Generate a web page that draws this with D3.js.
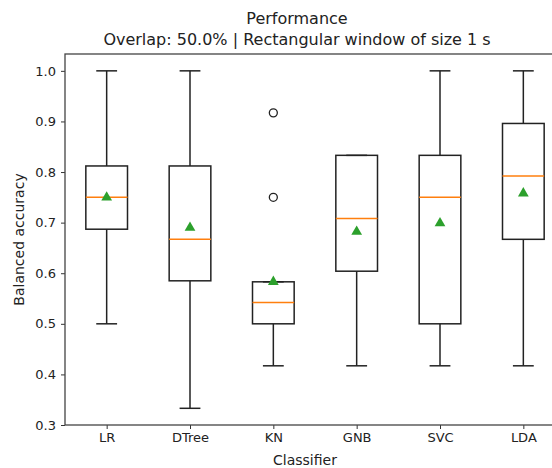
<!DOCTYPE html>
<html>
<head>
<meta charset="utf-8">
<script src="https://cdn.jsdelivr.net/npm/d3@7"></script>
<style>
  body { margin: 0; background: #fff; }
  svg text { font-family: "DejaVu Sans", sans-serif; fill: #222; }
</style>
</head>
<body>
<div id="chart"></div>
<script>
// classifier names and box statistics
const classifiers = ["LR", "DTree", "KN", "GNB", "SVC", "LDA"];
const whiskerLow = [0.5, 0.333, 0.417, 0.417, 0.417, 0.417];
const q1 = [0.687, 0.585, 0.5, 0.604, 0.5, 0.667];
const medians = [0.75, 0.667, 0.542, 0.708, 0.75, 0.792];
const q3 = [0.812, 0.812, 0.583, 0.833, 0.833, 0.896];
const whiskerHigh = [1.0, 1.0, 0.583, 0.833, 1.0, 1.0];
const means = [0.75, 0.69, 0.583, 0.682, 0.699, 0.758];
const outliers = [[], [], [0.917, 0.75], [], [], []];
const yTicks = [0.3, 0.4, 0.5, 0.6, 0.7, 0.8, 0.9, 1.0];

const W = 552, H = 468;
const margin = { top: 54, right: -13, bottom: 43, left: 65 },
    width = W - margin.left - margin.right,
    height = H - margin.top - margin.bottom;

const svg = d3.select("#chart")
    .append("svg")
    .attr("width", W)
    .attr("height", H);

const g = svg.append("g")
    .attr("transform", `translate(${margin.left},${margin.top})`);

// x: positions 1..6, matplotlib style limits 0.5..6.5
const x = d3.scaleLinear()
    .domain([0.5, classifiers.length + 0.5])
    .range([0, width]);
const y = d3.scaleLinear()
    .domain([0.3, 1.0 + 0.0333])
    .range([height, 0]);

const boxW = x(1.25) - x(1);   // half of box width (0.5 wide)
const capW = x(1.125) - x(1);  // half of cap width

const data = classifiers.map((c, i) => ({
    name: c, pos: i + 1,
    lo: whiskerLow[i], q1: q1[i], med: medians[i], q3: q3[i],
    hi: whiskerHigh[i], mean: means[i], out: outliers[i]
}));

// axes
const xAxis = g.append("g")
    .attr("transform", `translate(0,${height})`)
    .call(d3.axisBottom(x).tickValues(data.map(d => d.pos))
        .tickFormat((d, i) => classifiers[i]).tickSize(4).tickPadding(4));
const yAxis = g.append("g")
    .call(d3.axisLeft(y).tickValues(yTicks).tickFormat(d3.format(".1f"))
        .tickSize(4).tickPadding(5));
[xAxis, yAxis].forEach(a => {
    a.selectAll("text").style("font-size", "13px").attr("fill", "#222");
    a.selectAll("line").attr("stroke", "#333");
    a.select(".domain").remove();
});

// frame
g.append("rect")
    .attr("x", 0).attr("y", 0)
    .attr("width", width).attr("height", height)
    .attr("fill", "none").attr("stroke", "#444").attr("stroke-width", 1.3);

const boxes = g.selectAll(".box")
    .data(data)
    .join("g")
    .attr("class", "box");

const ink = "#222";
// whiskers
boxes.append("line")
    .attr("x1", d => x(d.pos)).attr("x2", d => x(d.pos))
    .attr("y1", d => y(d.q3)).attr("y2", d => y(d.hi))
    .attr("stroke", ink).attr("stroke-width", 1.5);
boxes.append("line")
    .attr("x1", d => x(d.pos)).attr("x2", d => x(d.pos))
    .attr("y1", d => y(d.q1)).attr("y2", d => y(d.lo))
    .attr("stroke", ink).attr("stroke-width", 1.5);
// caps
boxes.append("line")
    .attr("x1", d => x(d.pos) - capW).attr("x2", d => x(d.pos) + capW)
    .attr("y1", d => y(d.hi)).attr("y2", d => y(d.hi))
    .attr("stroke", ink).attr("stroke-width", 1.5);
boxes.append("line")
    .attr("x1", d => x(d.pos) - capW).attr("x2", d => x(d.pos) + capW)
    .attr("y1", d => y(d.lo)).attr("y2", d => y(d.lo))
    .attr("stroke", ink).attr("stroke-width", 1.5);
// box
boxes.append("rect")
    .attr("x", d => x(d.pos) - boxW)
    .attr("y", d => y(d.q3))
    .attr("width", 2 * boxW)
    .attr("height", d => y(d.q1) - y(d.q3))
    .attr("fill", "none").attr("stroke", ink).attr("stroke-width", 1.5);
// median
boxes.append("line")
    .attr("x1", d => x(d.pos) - boxW).attr("x2", d => x(d.pos) + boxW)
    .attr("y1", d => y(d.med)).attr("y2", d => y(d.med))
    .attr("stroke", "#ff7f0e").attr("stroke-width", 1.5);
// mean
boxes.append("path")
    .attr("d", d3.symbol(d3.symbolTriangle, 50))
    .attr("transform", d => `translate(${x(d.pos)},${y(d.mean)})`)
    .attr("fill", "#2ca02c");
// fliers
boxes.selectAll("circle")
    .data(d => d.out.map(v => ({ pos: d.pos, v })))
    .join("circle")
    .attr("cx", d => x(d.pos)).attr("cy", d => y(d.v))
    .attr("r", 4)
    .attr("fill", "none").attr("stroke", ink).attr("stroke-width", 1.3);

// titles and labels
svg.append("text")
    .attr("x", 297).attr("y", 24)
    .attr("text-anchor", "middle").style("font-size", "16px")
    .text("Performance");
svg.append("text")
    .attr("x", 297).attr("y", 45)
    .attr("text-anchor", "middle").style("font-size", "16px")
    .text("Overlap: 50.0% | Rectangular window of size 1 s");
svg.append("text")
    .attr("x", 305).attr("y", 465)
    .attr("text-anchor", "middle").style("font-size", "14px")
    .text("Classifier");
svg.append("text")
    .attr("transform", `translate(24,${margin.top + height / 2}) rotate(-90)`)
    .attr("text-anchor", "middle").style("font-size", "14px")
    .text("Balanced accuracy");
</script>
</body>
</html>
